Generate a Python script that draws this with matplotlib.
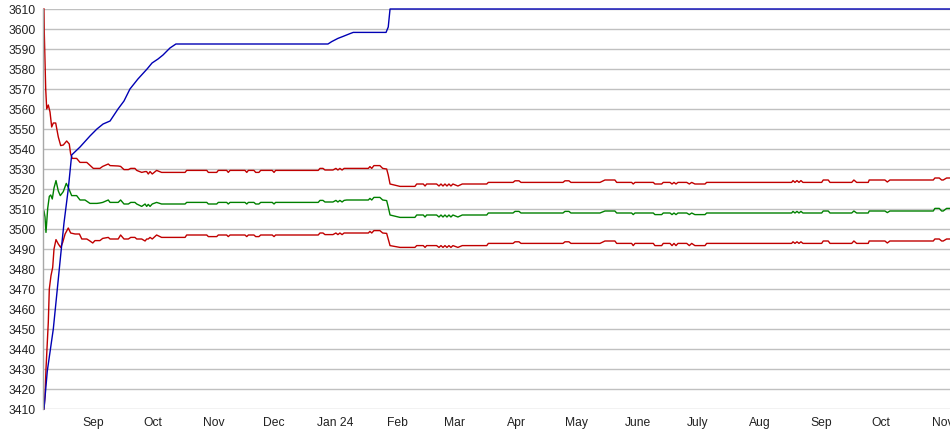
import matplotlib
matplotlib.use("Agg")
import matplotlib.pyplot as plt
import pandas as pd

# data: days counted from the first day shown (2023-08-07)
start = pd.Timestamp("2023-08-07")

blue_days = [0.5, 2.16, 5.18, 7.19, 8.89, 10.55, 12.7, 14.4, 18.6, 23.6, 27.1, 30.2,
             33.7, 37.7, 40.7, 43.7, 47.7, 52.3, 54.8, 57.8, 60.3, 63.8, 66.8,
             143.2, 145.1, 148.2, 150.8, 154.3, 155.9, 172.4, 173.5, 174.4, 455.8]
blue_vals = [3410, 3429, 3450, 3470, 3487, 3503, 3520, 3537, 3541, 3546.5, 3550, 3552.5,
             3554, 3560, 3564, 3570, 3575, 3580, 3583, 3585, 3587, 3590.5, 3592.5,
             3592.5, 3593.7, 3595.3, 3596.3, 3597.7, 3598.3, 3598.3, 3601, 3610, 3610]

# first weeks, each band on its own
upper_early_days = [0.5, 0.65, 1.36, 1.86, 2.66, 3.52, 4.37, 5.18, 6.38, 7.69, 8.89,
                    10.2, 11.9, 13.2, 13.9, 14.7, 16.9, 18.6, 22.0, 25.3, 27.6]
upper_early_vals = [3610, 3598, 3570, 3560, 3562, 3558.5, 3551, 3553, 3553, 3546, 3541.7,
                    3542, 3544, 3542.5, 3537.5, 3535.3, 3535.3, 3533.3, 3533.3, 3530.3, 3530.3]

mid_early_days = [0.5, 1.0, 1.5, 2.36, 3.17, 3.87, 4.67, 5.53, 6.53, 7.69, 8.69,
                  10.2, 11.7, 12.7, 14.4, 16.9, 18.6, 21.1, 23.6, 27.1]
mid_early_vals = [3509, 3506, 3498.3, 3510.3, 3516.3, 3517, 3515, 3520.5, 3524.2, 3519, 3516.7,
                  3518.7, 3522.8, 3520.8, 3516.7, 3516.7, 3514.5, 3514.5, 3512.8, 3512.8]

lower_early_days = [0.5, 1.0, 1.5, 2.16, 2.66, 3.17, 4.02, 4.87, 5.53, 6.53, 7.69, 8.89,
                    9.9, 11.1, 12.7, 13.9, 16.1, 18.3, 19.5, 22.0, 23.3, 25.0, 26.1, 27.6]
lower_early_vals = [3410, 3416.7, 3430, 3443.3, 3453.3, 3470, 3476.7, 3480.8, 3490, 3494.7,
                    3492.5, 3490.8, 3493.3, 3497.5, 3500.5, 3498, 3497.5, 3497.5, 3495, 3495,
                    3494.2, 3493, 3494.2, 3494.2]

# after that the three bands move together
band_days = [
    28.6, 30.0, 32.8, 33.7, 37.8, 39.0, 40.7, 42.9, 44.1, 46.2,
    47.1, 49.6, 51.3, 52.1, 52.9, 53.8, 54.9, 57.1, 59.6, 71.4,
    72.2, 82.3, 83.1, 87.3, 88.1, 92.3, 93.1, 94.0, 101.5, 102.4,
    103.2, 106.0, 106.9, 108.5, 109.4, 115.2, 116.1, 116.9, 138.3, 139.2,
    140.7, 141.7, 145.7, 147.2, 148.2, 149.2, 150.3, 151.3, 152.6, 163.5,
    164.3, 165.2, 166.3, 169.3, 170.7, 172.7, 173.5, 174.4, 179.4, 186.9,
    187.8, 191.1, 192.0, 192.8, 197.8, 199.0, 200.0, 201.0, 202.0, 203.0,
    204.0, 205.0, 206.0, 208.5, 210.7, 223.0, 223.8, 236.2, 237.2, 239.2,
    240.2, 261.3, 262.3, 264.3, 265.3, 279.9, 282.4, 287.4, 288.3, 295.8,
    296.6, 297.5, 306.7, 307.5, 310.9, 311.7, 315.1, 316.1, 317.1, 318.1,
    319.1, 323.5, 324.8, 326.0, 327.6, 332.7, 333.5, 376.2, 376.9, 377.9,
    378.9, 379.9, 380.9, 381.9, 391.3, 392.1, 394.6, 395.5, 406.4, 407.5,
    408.9, 414.7, 415.2, 423.1, 424.3, 425.6, 447.4, 448.2, 450.4, 451.6,
    452.4, 454.1, 455.8]
upper_vals = [
    3530.3, 3531.3, 3532.5, 3531.7, 3531.5, 3531.3, 3529.7, 3529.7, 3530.3, 3530.3,
    3529.3, 3528.3, 3528.7, 3528.7, 3527.5, 3528.7, 3527.5, 3529.3, 3528.3, 3528.3,
    3529.3, 3529.3, 3528.3, 3528.3, 3529.3, 3529.3, 3528.3, 3529.3, 3529.3, 3528.3,
    3529.3, 3529.3, 3528.3, 3528.3, 3529.3, 3529.3, 3528.3, 3529.3, 3529.3, 3530.3,
    3530.3, 3529.5, 3529.5, 3530.3, 3529.5, 3530.3, 3529.5, 3530.3, 3530.3, 3530.3,
    3531.2, 3530.3, 3531.7, 3531.7, 3530.3, 3530.0, 3527.0, 3522.5, 3521.3, 3521.3,
    3522.5, 3522.5, 3521.5, 3522.5, 3522.5, 3521.5, 3522.5, 3521.5, 3522.5, 3521.5,
    3522.5, 3521.5, 3522.5, 3521.5, 3522.5, 3522.5, 3523.3, 3523.3, 3524.1, 3524.1,
    3523.3, 3523.3, 3524.1, 3524.1, 3523.3, 3523.3, 3524.5, 3524.5, 3523.3, 3523.3,
    3522.5, 3523.3, 3523.3, 3522.5, 3522.5, 3523.3, 3523.3, 3522.5, 3523.3, 3522.5,
    3523.3, 3523.3, 3522.5, 3523.3, 3522.5, 3522.5, 3523.3, 3523.3, 3524.2, 3523.3,
    3524.2, 3523.3, 3524.2, 3523.3, 3523.3, 3524.5, 3524.5, 3523.3, 3523.3, 3524.5,
    3523.3, 3523.3, 3524.5, 3524.5, 3523.5, 3524.5, 3524.5, 3525.5, 3525.5, 3524.5,
    3524.5, 3525.5, 3525.5]
mid_vals = [
    3513.0, 3513.3, 3514.5, 3513.3, 3513.3, 3514.5, 3512.5, 3512.5, 3513.3, 3513.3,
    3512.5, 3511.3, 3512.5, 3511.3, 3512.3, 3511.3, 3512.5, 3513.3, 3512.5, 3512.5,
    3513.3, 3513.3, 3512.5, 3512.5, 3513.3, 3513.3, 3512.5, 3513.3, 3513.3, 3512.5,
    3513.3, 3513.3, 3512.5, 3512.5, 3513.3, 3513.3, 3512.5, 3513.3, 3513.3, 3514.3,
    3514.3, 3513.5, 3513.5, 3514.3, 3513.5, 3514.3, 3513.5, 3514.3, 3514.5, 3514.5,
    3515.3, 3514.5, 3515.8, 3515.8, 3514.5, 3514.2, 3511.0, 3507.0, 3505.8, 3505.8,
    3507.0, 3507.0, 3506.0, 3507.0, 3507.0, 3506.0, 3507.0, 3506.0, 3507.0, 3506.0,
    3507.0, 3506.0, 3507.0, 3506.0, 3507.0, 3507.0, 3508.0, 3508.0, 3508.8, 3508.8,
    3508.0, 3508.0, 3508.8, 3508.8, 3508.0, 3508.0, 3509.0, 3509.0, 3508.0, 3508.0,
    3507.2, 3508.0, 3508.0, 3507.2, 3507.2, 3508.0, 3508.0, 3507.2, 3508.0, 3507.2,
    3508.0, 3508.0, 3507.2, 3508.0, 3507.2, 3507.2, 3508.0, 3508.0, 3508.8, 3508.0,
    3508.8, 3508.0, 3508.8, 3508.0, 3508.0, 3509.0, 3509.0, 3508.0, 3508.0, 3509.0,
    3508.0, 3508.0, 3509.0, 3509.0, 3508.2, 3509.0, 3509.0, 3510.3, 3510.3, 3509.0,
    3509.0, 3510.3, 3510.3]
lower_vals = [
    3494.2, 3495.3, 3495.8, 3495.0, 3495.0, 3497.0, 3495.0, 3495.0, 3495.8, 3495.8,
    3495.0, 3495.0, 3494.0, 3495.0, 3495.0, 3495.8, 3495.0, 3497.0, 3495.8, 3495.8,
    3497.0, 3497.0, 3496.2, 3496.2, 3497.0, 3497.0, 3496.2, 3497.0, 3497.0, 3496.2,
    3497.0, 3497.0, 3496.2, 3496.2, 3497.0, 3497.0, 3496.2, 3497.0, 3497.0, 3498.0,
    3498.0, 3497.2, 3497.2, 3498.0, 3497.2, 3498.0, 3497.2, 3498.0, 3498.0, 3498.0,
    3498.8, 3498.0, 3499.2, 3499.2, 3498.0, 3497.8, 3495.0, 3491.7, 3490.8, 3490.8,
    3491.7, 3491.7, 3490.8, 3491.7, 3491.7, 3490.8, 3491.7, 3490.8, 3491.7, 3490.8,
    3491.7, 3490.8, 3491.7, 3490.8, 3491.7, 3491.7, 3492.8, 3492.8, 3493.6, 3493.6,
    3492.8, 3492.8, 3493.6, 3493.6, 3492.8, 3492.8, 3494.0, 3494.0, 3492.8, 3492.8,
    3491.7, 3492.8, 3492.8, 3491.7, 3491.7, 3492.8, 3492.8, 3491.7, 3492.8, 3491.7,
    3492.8, 3492.8, 3491.7, 3492.8, 3491.7, 3491.7, 3492.8, 3492.8, 3493.6, 3492.8,
    3493.6, 3492.8, 3493.6, 3492.8, 3492.8, 3494.0, 3494.0, 3492.8, 3492.8, 3494.0,
    3492.8, 3492.8, 3494.0, 3494.0, 3493.0, 3494.0, 3494.0, 3495.0, 3495.0, 3494.0,
    3494.0, 3495.0, 3495.0]

month_labels = ["Sep", "Oct", "Nov", "Dec", "Jan 24", "Feb", "Mar", "Apr", "May",
                "June", "July", "Aug", "Sep", "Oct", "Nov"]
month_starts = pd.date_range("2023-09-01", "2024-11-01", freq="MS")


def to_dates(days):
    return start + pd.to_timedelta(days, unit="D")


plt.rcParams["font.family"] = ["Liberation Sans", "DejaVu Sans"]

fig = plt.figure(figsize=(9.5, 4.35), dpi=100)
ax = fig.add_axes([43 / 950, 25 / 435, 907 / 950, 400 / 435])

lw = 1.0
red = "#c00000"
ax.plot(to_dates(upper_early_days + band_days), upper_early_vals + upper_vals,
        color=red, lw=lw, clip_on=False)
ax.plot(to_dates(lower_early_days + band_days), lower_early_vals + lower_vals,
        color=red, lw=lw, clip_on=False)
ax.plot(to_dates(mid_early_days + band_days), mid_early_vals + mid_vals,
        color="#008000", lw=lw, clip_on=False)
ax.plot(to_dates(blue_days), blue_vals, color="#0000b4", lw=lw, clip_on=False)

ax.set_ylim(3410, 3610)
ax.set_xlim(start, start + pd.Timedelta(days=455.8))
ax.set_yticks(range(3410, 3611, 10))
ax.set_xticks(month_starts)
ax.set_xticklabels(month_labels)
ax.tick_params(length=0, labelsize=8.7, colors="#222222")
ax.tick_params(axis="y", pad=5)
ax.tick_params(axis="x", pad=5)

ax.grid(axis="y", color="#c0c0c0", lw=1.0)
ax.set_axisbelow(True)
for side in ["top", "right", "bottom"]:
    ax.spines[side].set_visible(False)
ax.spines["left"].set_color("#a8a8a8")
ax.spines["left"].set_linewidth(1.0)

fig.savefig("out.png", dpi=100)
